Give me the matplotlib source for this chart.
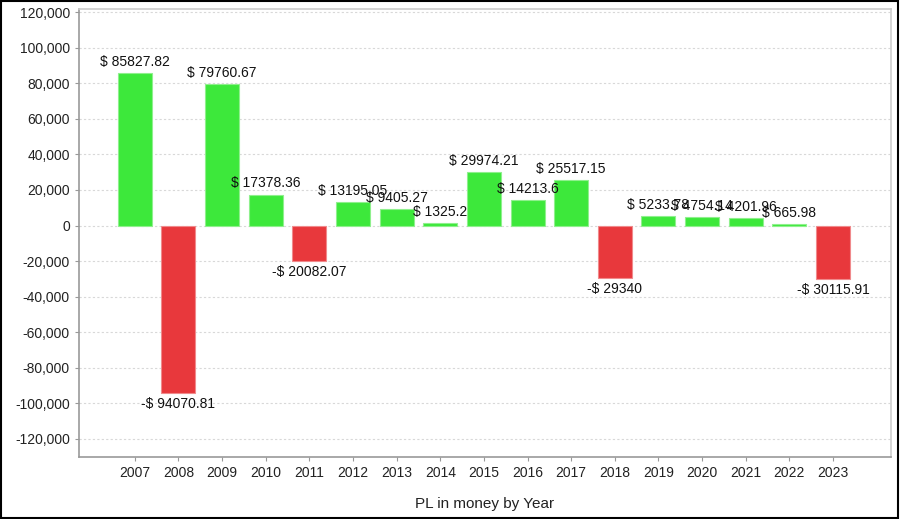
import matplotlib.pyplot as plt
from matplotlib.patches import Rectangle
from matplotlib.ticker import FuncFormatter, MultipleLocator

plt.rcParams['font.family'] = ['Liberation Sans', 'DejaVu Sans']

# PL per year
years = ['2007', '2008', '2009', '2010', '2011', '2012', '2013', '2014', '2015',
         '2016', '2017', '2018', '2019', '2020', '2021', '2022', '2023']
pl = [85827.82, -94070.81, 79760.67, 17378.36, -20082.07, 13195.05, 9405.27,
      1325.2, 29974.21, 14213.6, 25517.15, -29340, 5233.78, 4754.14, 4201.96,
      665.98, -30115.91]
labels = ['$ 85827.82', '-$ 94070.81', '$ 79760.67', '$ 17378.36', '-$ 20082.07',
          '$ 13195.05', '$ 9405.27', '$ 1325.2', '$ 29974.21', '$ 14213.6',
          '$ 25517.15', '-$ 29340', '$ 5233.78', '$ 4754.14', '$ 4201.96',
          '$ 665.98', '-$ 30115.91']

green = '#3de83b'
red = '#e8383c'

fig = plt.figure(figsize=(9, 5.19), dpi=100)
ax = fig.add_axes([79 / 900, 1 - 457 / 519, (891 - 79) / 900, (457 - 9) / 519])

x = list(range(len(years)))
colors = [green if v >= 0 else red for v in pl]
edges = ['#8ff08d' if v >= 0 else '#f08a8c' for v in pl]
ax.bar(x, pl, width=0.78, color=colors, edgecolor=edges, linewidth=0.8, zorder=2)

for xi, v, lab in zip(x, pl, labels):
    if v >= 0:
        ax.annotate(lab, (xi, v), xytext=(0, 3), textcoords='offset points',
                    ha='center', va='bottom', fontsize=10, color='#111111', zorder=3)
    else:
        ax.annotate(lab, (xi, v), xytext=(0, -3), textcoords='offset points',
                    ha='center', va='top', fontsize=10, color='#111111', zorder=3)

ax.set_xlim(-1.28, 17.33)
ax.set_ylim(-130200, 121800)
ax.yaxis.set_major_locator(MultipleLocator(20000))
ax.yaxis.set_major_formatter(FuncFormatter(lambda v, p: f'{v:,.0f}'))
ax.set_xticks(x)
ax.set_xticklabels(years)
ax.tick_params(labelsize=10, length=3, width=0.8, colors='#999999', labelcolor='#222222')

ax.grid(axis='y', linestyle=(0, (2, 2)), color='#d8d8d8', linewidth=0.8, zorder=0)
ax.set_axisbelow(True)
for side in ['left', 'bottom']:
    ax.spines[side].set_color('#999999')
    ax.spines[side].set_linewidth(1.2)
for side in ['top', 'right']:
    ax.spines[side].set_color('#cccccc')
    ax.spines[side].set_linewidth(1.2)

ax.set_xlabel('PL in money by Year', fontsize=11, color='#222222', labelpad=12)

fig.patches.append(Rectangle((0.001, 0.002), 0.997, 0.996, transform=fig.transFigure,
                             fill=False, edgecolor='black', linewidth=1.5))

fig.savefig('out.png', dpi=100)
